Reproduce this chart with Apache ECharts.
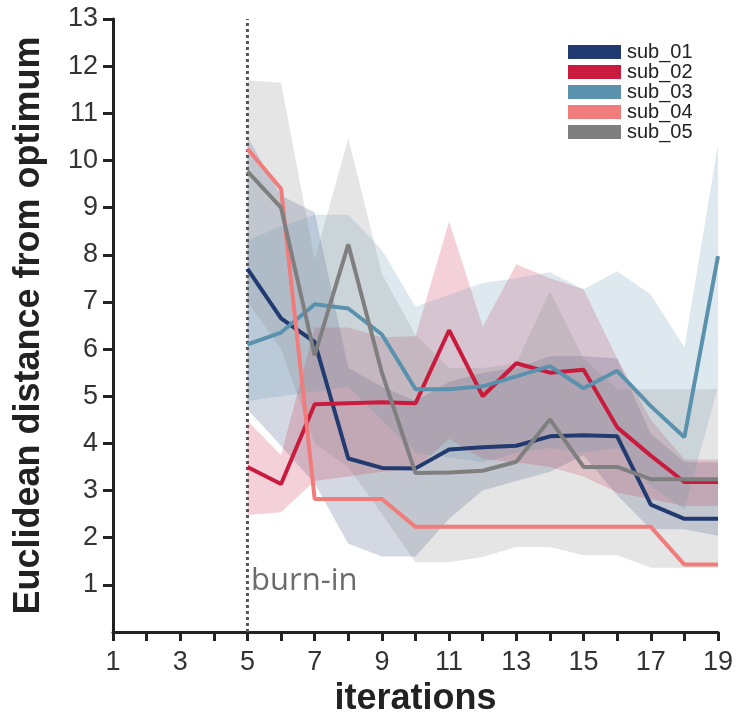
<!DOCTYPE html>
<html><head><meta charset="utf-8">
<script src="https://cdn.jsdelivr.net/npm/echarts@6/dist/echarts.min.js"></script>
<style>html,body{margin:0;padding:0;background:#fff}#c{width:737px;height:720px}</style>
</head><body><div id="c"></div>
<script>
const iterations = [5,6,7,8,9,10,11,12,13,14,15,16,17,18,19];
const names = ['sub_01','sub_02','sub_03','sub_04','sub_05'];
const colors = ['#213a70','#c91b3d','#5a92ad','#f07c7b','#7f7f7f'];
const sub01 = [7.70,6.65,6.15,3.68,3.48,3.47,3.87,3.92,3.95,4.15,4.17,4.15,2.70,2.40,2.40];
const sub02 = [3.50,3.14,4.83,4.85,4.87,4.85,6.40,5.00,5.70,5.50,5.56,4.34,3.74,3.18,3.18];
const sub03 = [6.10,6.35,6.95,6.86,6.31,5.15,5.15,5.21,5.42,5.64,5.17,5.54,4.79,4.13,7.97];
const sub04 = [10.25,9.40,2.82,2.82,2.82,2.23,2.23,2.23,2.23,2.23,2.23,2.23,2.23,1.43,1.43];
const sub05 = [9.77,9.00,5.87,8.22,5.50,3.37,3.38,3.42,3.61,4.51,3.50,3.50,3.24,3.24,3.24];
// band bounds (upper / lower)
const sub01Up = [10.5,9.25,8.9,5.6,5.2,4.9,5.3,5.5,5.6,5.85,5.85,5.8,4.2,3.6,3.6];
const sub01Lo = [4.72,3.95,3.15,1.87,1.6,1.6,2.4,3.0,3.2,3.4,3.75,2.9,2.18,2.18,2.04];
const sub02Up = [4.48,3.75,6.46,6.46,6.25,6.27,8.71,6.48,7.8,7.5,7.27,5.8,4.5,3.66,3.66];
const sub02Lo = [2.48,2.54,3.2,3.3,3.4,3.45,4.1,3.67,3.6,3.5,3.3,2.96,2.82,2.67,2.67];
const sub03Up = [8.3,8.6,8.85,8.85,8.1,6.9,7.15,7.4,7.5,7.63,7.27,7.65,7.16,6.04,10.34];
const sub03Lo = [4.9,5.0,5.1,5.2,4.5,3.8,3.7,3.6,3.8,3.9,3.8,3.9,3.1,2.6,5.2];
const sub05Up = [11.7,11.65,7.9,10.47,7.6,6.3,5.6,5.6,5.7,7.23,5.8,5.15,5.15,5.15,5.15];
const sub05Lo = [7.0,6.0,4.0,3.5,2.5,1.48,1.48,1.59,1.8,1.8,1.63,1.63,1.36,1.36,1.36];
const burnIn = 5;
const xTicks = [1,2,3,4,5,6,7,8,9,10,11,12,13,14,15,16,17,18,19];
const xLabels = [1,3,5,7,9,11,13,15,17,19];
const yTicks = [1,2,3,4,5,6,7,8,9,10,11,12,13];

const lines = [sub01,sub02,sub03,sub04,sub05];
const bands = [[sub01Up,sub01Lo,0],[sub02Up,sub02Lo,1],[sub03Up,sub03Lo,2],[sub05Up,sub05Lo,4]];
const pairs = a => iterations.map((x,i)=>[x,a[i]]);
const series = [];
bands.forEach(([up,lo,k])=>{
  series.push({type:'custom',silent:true,z:1,
    data:iterations.map((x,i)=>[x,lo[i],up[i]]),
    encode:{x:0,y:[1,2]},
    renderItem:(params,api)=>{
      if(params.dataIndex!==0) return null;
      const pts=[];
      for(let i=0;i<iterations.length;i++) pts.push(api.coord([iterations[i],up[i]]));
      for(let i=iterations.length-1;i>=0;i--) pts.push(api.coord([iterations[i],lo[i]]));
      return {type:'polygon',shape:{points:pts},style:{fill:colors[k],opacity:0.2}};
    }});
});
series.push({type:'line',data:[[burnIn,0],[burnIn,13]],symbol:'none',silent:true,z:2,
  lineStyle:{color:'#555',width:3,type:[3,3]}});
lines.forEach((a,k)=>{
  series.push({name:names[k],type:'line',data:pairs(a),symbol:'none',z:3,
    lineStyle:{color:colors[k],width:4},itemStyle:{color:colors[k]}});
});

const chart = echarts.init(document.getElementById('c'),null,{renderer:'canvas'});
chart.setOption({
  animation:false,
  grid:{left:113,right:19,top:19,bottom:88,containLabel:false,outerBoundsMode:'none'},
  legend:{data:names,orient:'vertical',left:568,top:42,padding:0,icon:'rect',itemWidth:53,itemHeight:14,itemGap:0,
    textStyle:{fontFamily:'Liberation Sans',fontSize:20,lineHeight:20,color:'#222',padding:[0,0,0,1]}},
  xAxis:{type:'value',min:1,max:19,interval:1,
    name:'iterations',nameLocation:'middle',nameGap:45,
    nameTextStyle:{fontFamily:'Liberation Sans',fontWeight:'bold',fontSize:36,color:'#222'},
    axisLine:{lineStyle:{color:'#222',width:3}},
    axisTick:{length:9,lineStyle:{width:3,color:'#222'},customValues:xTicks},
    axisLabel:{customValues:xLabels,fontFamily:'Liberation Sans',fontSize:27,color:'#333',margin:17},
    splitLine:{show:false}},
  yAxis:{type:'value',min:0,max:13,interval:1,
    name:'Euclidean distance from optimum',nameLocation:'middle',nameGap:66,
    nameTextStyle:{fontFamily:'Liberation Sans',fontWeight:'bold',fontSize:36,color:'#222'},
    axisLine:{lineStyle:{color:'#222',width:3}},
    axisTick:{length:10,lineStyle:{width:3,color:'#222'},customValues:yTicks},
    axisLabel:{customValues:yTicks,fontFamily:'Liberation Sans',fontSize:27,color:'#333',margin:15},
    splitLine:{show:false}},
  graphic:[{type:'text',left:251,top:566,style:{text:'burn-in',font:'31px "Open Sans"',fill:'#6b6b6b'}}],
  series:series
});
</script></body></html>
